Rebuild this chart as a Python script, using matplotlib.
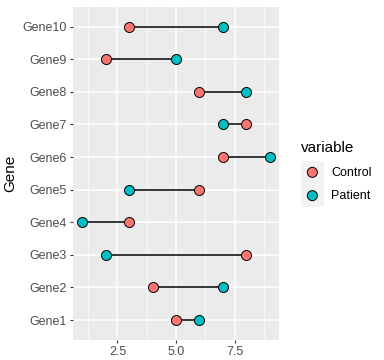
import matplotlib
matplotlib.use("Agg")
import matplotlib.pyplot as plt
import numpy as np

plt.rcParams['font.family'] = ['Liberation Sans', 'DejaVu Sans']

genes = ['Gene1', 'Gene2', 'Gene3', 'Gene4', 'Gene5',
         'Gene6', 'Gene7', 'Gene8', 'Gene9', 'Gene10']
control = [5, 4, 8, 3, 6, 7, 8, 6, 2, 3]
patient = [6, 7, 2, 1, 3, 9, 7, 8, 5, 7]
series = ['Control', 'Patient']
colors = ['#F8766D', '#00BFC4']

W, H = 384, 360
fig = plt.figure(figsize=(W/100, H/100), dpi=100)
ax = fig.add_axes([73/W, 1 - 339.6/H, (279 - 73)/W, (339.6 - 7.1)/H])
ax.set_facecolor('#EBEBEB')

y = np.arange(len(genes))
for i in range(len(genes)):
    ax.plot([control[i], patient[i]], [y[i], y[i]], color='black', lw=1.1, zorder=3)
ax.scatter(control, y, s=52, c=colors[0], edgecolors='black', linewidths=0.7, zorder=4)
ax.scatter(patient, y, s=52, c=colors[1], edgecolors='black', linewidths=0.7, zorder=4)

ax.set_xlim(0.6, 9.4)
ax.set_ylim(-0.6, len(genes) - 0.4)
ax.set_xticks([2.5, 5.0, 7.5])
ax.set_xticklabels(['2.5', '5.0', '7.5'])
ax.set_xticks([1.25, 3.75, 6.25, 8.75], minor=True)
ax.set_yticks(y)
ax.set_yticklabels(genes)
ax.grid(which='major', color='white', lw=1.1, zorder=0)
ax.grid(which='minor', axis='x', color='white', lw=0.5, zorder=0)
ax.set_axisbelow(True)
for s in ax.spines.values():
    s.set_visible(False)
ax.tick_params(which='major', length=2.5, width=0.8, color='#333333',
               labelsize=9, labelcolor='#4D4D4D', pad=2)
ax.tick_params(which='minor', length=0)
ax.set_ylabel('Gene', fontsize=11, labelpad=4)

# legend
fig.text(300.5/W, 1 - 148/H, 'variable', fontsize=11, va='center', ha='left')
kax = fig.add_axes([300.7/W, 1 - 207.3/H, 23.3/W, 46.6/H])
kax.set_facecolor('#F2F2F2')
kax.set_xlim(0, 1)
kax.set_ylim(0, 2)
kax.scatter([0.5, 0.5], [1.5, 0.5], s=52, c=colors, edgecolors='black', linewidths=0.7)
kax.set_xticks([])
kax.set_yticks([])
for s in kax.spines.values():
    s.set_visible(False)
fig.text(331/W, 1 - 173/H, series[0], fontsize=9, va='center', ha='left')
fig.text(331/W, 1 - 196/H, series[1], fontsize=9, va='center', ha='left')

fig.savefig('out.png', dpi=100)
